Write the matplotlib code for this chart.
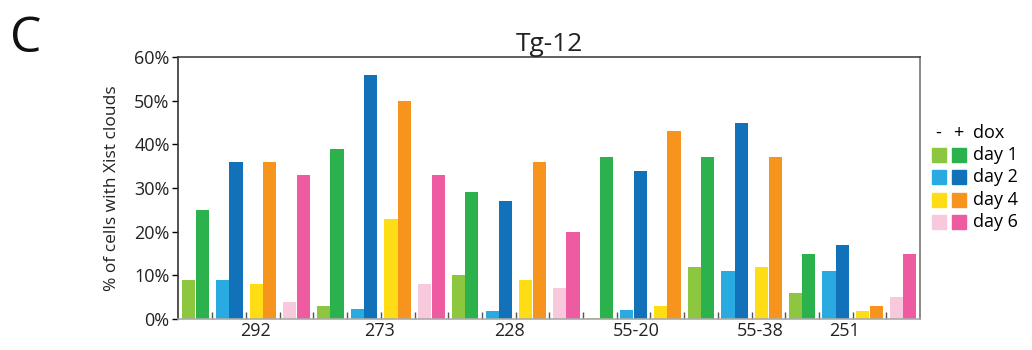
import numpy as np
import matplotlib.pyplot as plt
from matplotlib.patches import Rectangle

plt.rcParams['font.family'] = ['Open Sans', 'DejaVu Sans']

# cell lines (groups) and dox timepoints
lines = ["292", "273", "228", "55-20", "55-38", "251"]
days = ["day 1", "day 2", "day 4", "day 6"]

# % of cells with Xist clouds, per line, per day (None = not measured)
minus_dox = [
    [9, 9, 8, 4],
    [3, 2.3, 23, 8],
    [10, 1.8, 9, 7],
    [0.3, 2, 3, None],
    [12, 11, 12, None],
    [6, 11, 1.8, 5],
]
plus_dox = [
    [25, 36, 36, 33],
    [39, 56, 50, 33],
    [29, 27, 36, 20],
    [37, 34, 43, None],
    [37, 45, 37, None],
    [15, 17, 3, 15],
]

# x position of each line label (in pair units, as in the figure)
label_pos = [1.77, 5.47, 9.33, 13.07, 16.75, 19.27]

minus_col = ["#8DC63F", "#29ABE2", "#FFDD15", "#F8C9DD"]
plus_col = ["#2BB24C", "#1172BA", "#F7941E", "#EF5BA1"]

fig = plt.figure(figsize=(10.32, 3.5), dpi=100)
ax = fig.add_axes([0.1725, 0.0886, 0.719, 0.7484])

w = 0.39
pos = 0
for g in range(len(lines)):
    for d in range(len(days)):
        if plus_dox[g][d] is None:
            continue
        ax.bar(pos - 0.2, minus_dox[g][d], w, color=minus_col[d], edgecolor="none")
        ax.bar(pos + 0.2, plus_dox[g][d], w, color=plus_col[d], edgecolor="none")
        pos += 1
n_pairs = pos

ax.set_xlim(-0.52, n_pairs - 0.5)
ax.set_ylim(0, 60)
ax.set_yticks(np.arange(0, 61, 10))
ax.set_yticklabels([f"{v}%" for v in range(0, 61, 10)], fontsize=13, color="#222222")
ax.tick_params(axis="y", length=4, width=1, direction="out", pad=2)
ax.set_xticks(label_pos)
ax.set_xticklabels(lines, fontsize=13, color="#222222")
ax.tick_params(axis="x", length=0, pad=2)
ax.set_xticks(np.arange(0.5, n_pairs - 1, 1), minor=True)
ax.tick_params(axis="x", which="minor", length=5, width=1, direction="in", color="#555555")

ax.spines["left"].set_color("#333333")
ax.spines["top"].set_color("#444444")
ax.spines["right"].set_color("#777777")
ax.spines["bottom"].set_color("#aaaaaa")
for s in ax.spines.values():
    s.set_linewidth(1.2)

ax.set_ylabel("% of cells with Xist clouds", fontsize=12.5, color="#222222", labelpad=10)
ax.set_title("Tg-12", fontsize=19, color="#222222", pad=4)

fig.text(0.01, 0.85, "C", fontsize=36, color="#111111")

# legend drawn by hand: - / + squares per day
fig.text(0.909, 0.62, "-", fontsize=13, ha="center", va="center")
fig.text(0.929, 0.62, "+", fontsize=13, ha="center", va="center")
fig.text(0.943, 0.62, "dox", fontsize=13, va="center")
for d in range(len(days)):
    yc = 0.557 - d * 0.0637
    fig.patches.append(Rectangle((0.9035, yc - 0.02), 0.0135, 0.04, color=minus_col[d],
                                 transform=fig.transFigure, figure=fig))
    fig.patches.append(Rectangle((0.9225, yc - 0.02), 0.0135, 0.04, color=plus_col[d],
                                 transform=fig.transFigure, figure=fig))
    fig.text(0.943, yc, days[d], fontsize=13, va="center")

plt.savefig("out.png", dpi=100)
